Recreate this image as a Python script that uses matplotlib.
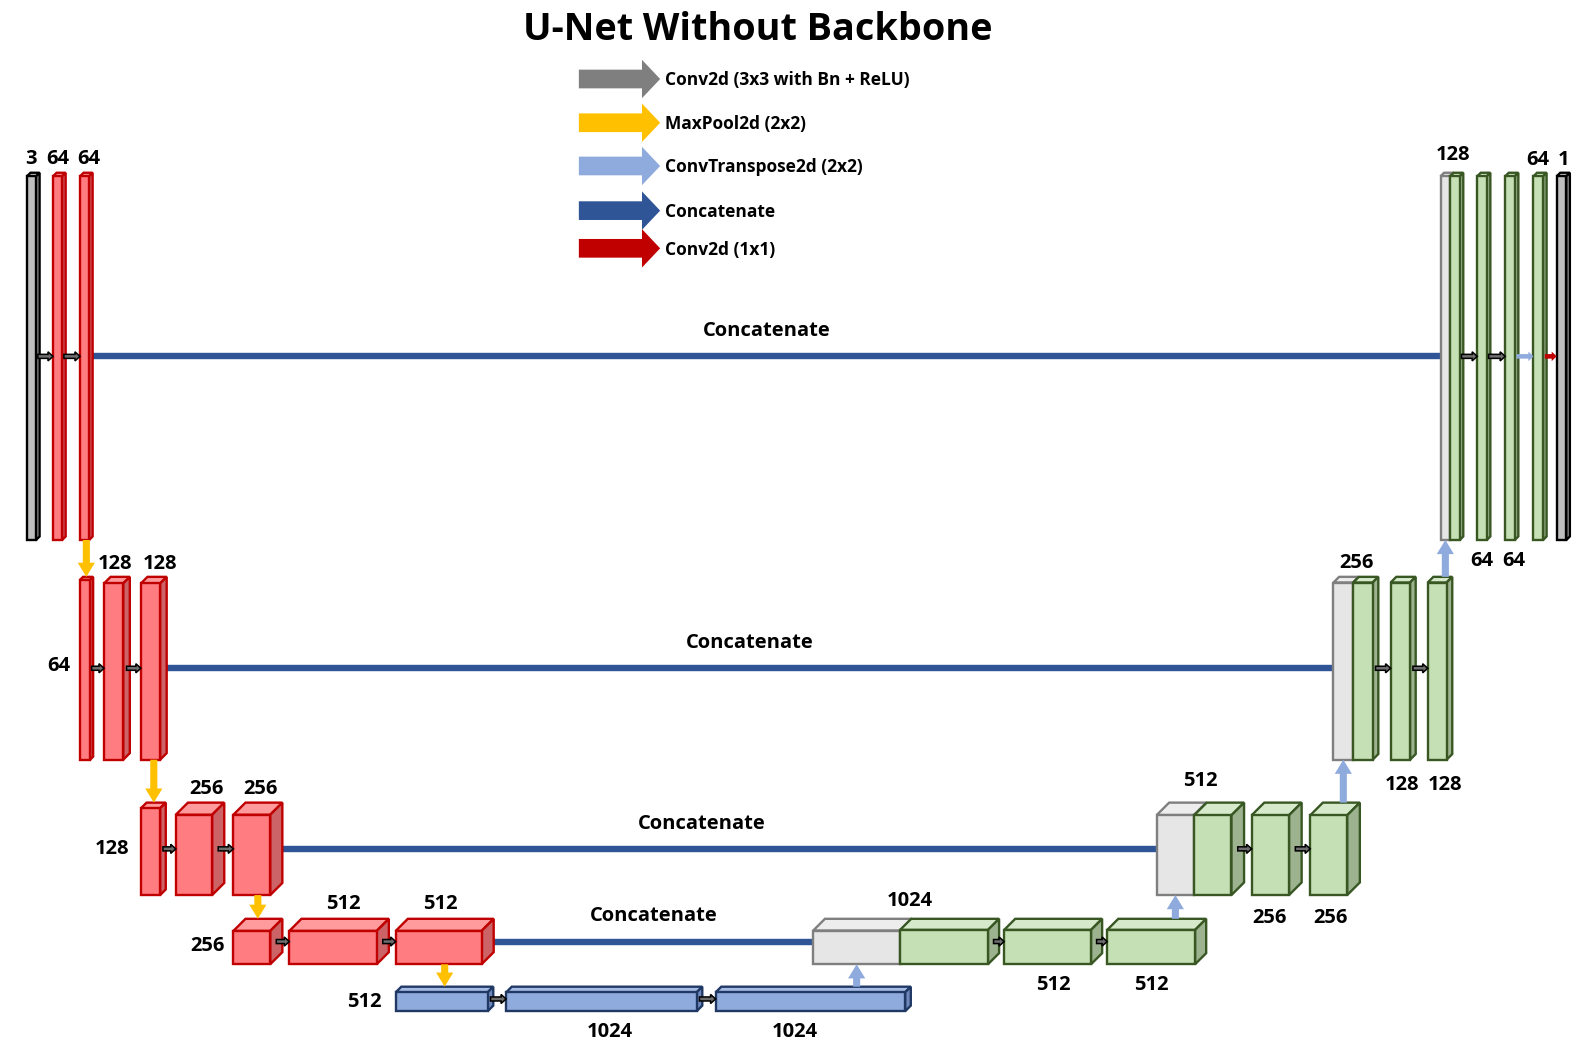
import matplotlib
matplotlib.use("Agg")
import matplotlib.pyplot as plt
from matplotlib.patches import Polygon, Rectangle, FancyArrow

plt.rcParams["font.family"] = ["Open Sans", "DejaVu Sans"]
plt.rcParams["font.weight"] = "bold"

#%% Data
title = "U-Net Without Backbone"
legend_names = [
    "Conv2d (3x3 with Bn + ReLU)",
    "MaxPool2d (2x2)",
    "ConvTranspose2d (2x2)",
    "Concatenate",
    "Conv2d (1x1)",
]
legend_kinds = ["conv", "pool", "up", "concat", "out"]
concat_text = "Concatenate"

# channel counts, encoder levels top -> bottom
enc_ch = [[3, 64, 64], [64, 128, 128], [128, 256, 256], [256, 512, 512]]
mid_ch = [512, 1024, 1024]
# decoder levels top -> bottom (level 1 ends with the 1x1 output)
dec_ch = [[128, 64, 64, 64, 1], [256, 128, 128], [512, 256, 256], [1024, 512, 512]]

#%% Layout (canvas units, y grows downward)
W, H = 1568, 1035.4
rows = [(171, 534.5), (571, 752), (794.5, 886), (909.5, 954.5), (976.7, 1001)]

# (x, front width, depth, style)
enc_boxes = [
    [(26.7, 9, 3.5, "io"), (52.5, 9, 3.5, "enc"), (79.2, 9, 3.5, "enc")],
    [(79.2, 10, 3, "enc"), (103, 19, 6.5, "enc"), (139.5, 19, 6.5, "enc")],
    [(139.5, 19, 5.6, "enc"), (174, 36, 12, "enc"), (231, 36.5, 12, "enc")],
    [(231, 36.5, 12, "enc"), (286.4, 86.5, 12, "enc"), (391.7, 85, 12, "enc")],
]
mid_boxes = [(391.7, 91, 5.6, "mid"), (501, 188.6, 5.6, "mid"), (708.4, 187.6, 5.6, "mid")]
dec_boxes = [
    [(1426, 9.5, 3.5, "cat"), (1435.5, 9.5, 3.5, "dec"), (1462.3, 9.5, 3.5, "dec"),
     (1490, 9.5, 3.5, "dec"), (1518, 9.5, 3.5, "dec"), (1541, 9.5, 3.5, "io")],
    [(1320, 19.5, 5.6, "cat"), (1339.5, 19.3, 5.6, "dec"), (1376.6, 19.2, 5.6, "dec"),
     (1413.3, 18.7, 5.6, "dec")],
    [(1145, 37, 12.3, "cat"), (1182, 37, 12.5, "dec"), (1239, 37, 12.5, "dec"),
     (1297, 36.6, 12.5, "dec")],
    [(805, 86, 11.6, "cat"), (891, 87, 11, "dec"), (994, 86, 11, "dec"), (1096, 87, 11, "dec")],
]
dec_arrow_kinds = [["conv", "conv", "up", "out"], ["conv", "conv"], ["conv", "conv"], ["conv", "conv"]]

# label centres, same order as the channel lists
enc_lab_pos = [
    [(30.7, 155), (56.8, 155), (88.4, 155)],
    [(58.5, 657), (114, 556), (158, 556)],
    [(110.5, 838), (204.6, 779), (257.4, 779)],
    [(205, 934), (339.6, 893), (435.6, 893)],
]
mid_lab_pos = [(360.3, 990), (604, 1019.6), (787, 1019.6)]
dec_lab_pos = [
    [(1438.5, 151), (1467, 553), (1499, 553), (1522.6, 156.6), (1548, 156.6)],
    [(1343, 555), (1388, 775), (1430, 775)],
    [(1188.6, 771), (1257, 907), (1316.6, 907)],
    [(901, 890), (1042.5, 973), (1140, 973)],
]
concat_lab_x = [759, 742, 695, 647]

STYLE = {
    "io": dict(face="#BFBFBF", side="#A5A5A5", top="#D2D2D2", edge="#000000"),
    "enc": dict(face="#FF7C80", side="#CC6366", top="#FF9A9D", edge="#C00000"),
    "mid": dict(face="#8FAADC", side="#7088BB", top="#A6BCE5", edge="#203864"),
    "cat": dict(face="#E6E6E6", side="#CDCDCD", top="#EDEDED", edge="#7F7F7F"),
    "dec": dict(face="#C5E0B4", side="#9DB390", top="#D6E9CA", edge="#385723"),
}
ARROW = {"conv": "#7F7F7F", "pool": "#FFC000", "up": "#8FAADC",
         "concat": "#2F5597", "out": "#C00000"}
LW = 1.7
SCALE = 1584 / W
LAB_FS = 14.5


def px(pt):
    # points -> canvas units
    return pt * 100 / 72 / SCALE


def label(ax, s, x, y, fs=LAB_FS, ha="center"):
    # y is the visual centre of the cap height
    ax.text(x, y + 0.357 * px(fs), s, fontsize=fs, fontweight="bold",
            ha=ha, va="baseline", color="black", zorder=50)


def box(ax, x, w, d, top, bottom, style, z):
    st = STYLE[style]
    y0 = top + d
    kw = dict(ec=st["edge"], lw=LW, joinstyle="miter", zorder=z)
    ax.add_patch(Polygon([(x, y0), (x + d, top), (x + w + d, top), (x + w, y0)],
                         closed=True, fc=st["top"], **kw))
    ax.add_patch(Polygon([(x + w, y0), (x + w + d, top), (x + w + d, bottom - d), (x + w, bottom)],
                         closed=True, fc=st["side"], **kw))
    ax.add_patch(Rectangle((x, y0), w, bottom - y0, fc=st["face"], **kw))


def small_arrow(ax, x0, x1, y, kind):
    if kind == "conv":
        ax.add_patch(FancyArrow(x0, y, x1 - x0, 0, width=4, head_width=9, head_length=5,
                                length_includes_head=True, fc="#6E6E6E", ec="black",
                                lw=1.1, zorder=40))
    else:
        ax.add_patch(FancyArrow(x0, y, x1 - x0, 0, width=4.5, head_width=9.5, head_length=5,
                                length_includes_head=True, fc=ARROW[kind], ec="none",
                                zorder=40))


def vert_arrow(ax, x, y0, y1, kind):
    ax.add_patch(FancyArrow(x, y0, 0, y1 - y0, width=7, head_width=17, head_length=14,
                            length_includes_head=True, fc=ARROW[kind], ec="none", zorder=45))


def draw_row(ax, boxes, row, kinds, z0):
    top, bottom = row
    ymid = (top + bottom) / 2
    for i, (x, w, d, st) in enumerate(boxes):
        box(ax, x, w, d, top, bottom, st, z0 + i)
    for i in range(len(boxes) - 1):
        if kinds[i] is None:
            continue
        x, w, d, _ = boxes[i]
        small_arrow(ax, x + w + d * 0.5, boxes[i + 1][0], ymid, kinds[i])


#%% Figure
fig = plt.figure(figsize=(15.84, 10.46), dpi=100)
ax = fig.add_axes([0, 0, 1, 1])
ax.set_xlim(0, W)
ax.set_ylim(H, 0)
ax.axis("off")

ax.text(750.5, 26 + 0.357 * px(27.2), title, fontsize=27.2, fontweight="bold",
        ha="center", va="baseline")

# legend
leg_y = [78.2, 121.5, 164.3, 208.5, 245.8]
for name, kind, y in zip(legend_names, legend_kinds, leg_y):
    ax.add_patch(FancyArrow(573, y, 80.5, 0, width=18.5, head_width=38, head_length=18,
                            length_includes_head=True, fc=ARROW[kind], ec="none"))
    label(ax, name, 658, y, fs=12.5, ha="left")

# concatenate lines
for lvl in range(4):
    x, w, d, _ = enc_boxes[lvl][-1]
    x_end = dec_boxes[lvl][0][0]
    top, bottom = rows[lvl]
    ymid = (top + bottom) / 2
    ax.plot([x + w + d, x_end], [ymid, ymid], color=ARROW["concat"], lw=4.6,
            solid_capstyle="butt", zorder=5)
    label(ax, concat_text, concat_lab_x[lvl], ymid - 27)

# encoder, bottleneck, decoder blocks
for lvl in range(4):
    draw_row(ax, enc_boxes[lvl], rows[lvl], ["conv"] * 2, 10)
    draw_row(ax, dec_boxes[lvl], rows[lvl], [None] + dec_arrow_kinds[lvl], 10)
draw_row(ax, mid_boxes, rows[4], ["conv"] * 2, 10)

# max pooling arrows (down)
for lvl in range(4):
    x, w, d, _ = enc_boxes[lvl][-1]
    vert_arrow(ax, x + (w + d) / 2, rows[lvl][1], rows[lvl + 1][0], "pool")

# transpose conv arrows (up) into each concat block
for lvl in range(4):
    x, w, d, _ = dec_boxes[lvl][0]
    vert_arrow(ax, x + w / 2, rows[lvl + 1][0], rows[lvl][1], "up")

# channel labels
for lvl in range(4):
    for c, (lx, ly) in zip(enc_ch[lvl], enc_lab_pos[lvl]):
        label(ax, str(c), lx, ly)
    for c, (lx, ly) in zip(dec_ch[lvl], dec_lab_pos[lvl]):
        label(ax, str(c), lx, ly)
for c, (lx, ly) in zip(mid_ch, mid_lab_pos):
    label(ax, str(c), lx, ly)

fig.savefig("out.png", dpi=100)
